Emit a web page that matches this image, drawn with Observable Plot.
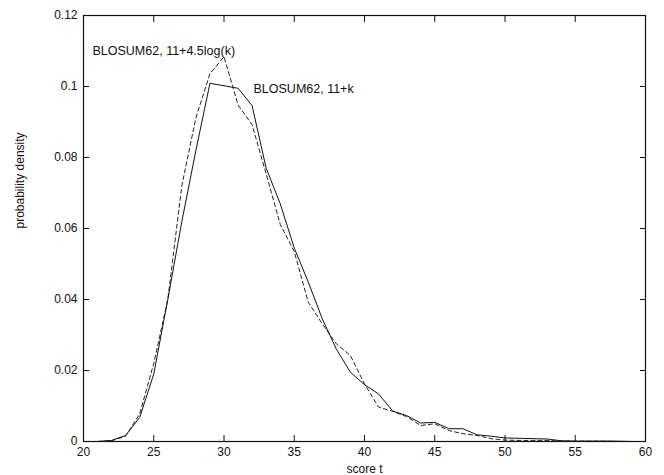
<!DOCTYPE html>
<html>
<head>
<meta charset="utf-8">
<script src="https://cdn.jsdelivr.net/npm/d3@7"></script>
<script src="https://cdn.jsdelivr.net/npm/@observablehq/plot@0.6"></script>
<style>
  html, body { margin: 0; padding: 0; background: #fff; }
  #chart svg { display: block; }
</style>
</head>
<body>
<div id="chart"></div>
<script>
// score t values
const scores = [20,21,22,23,24,25,26,27,28,29,30,31,32,33,34,35,36,37,38,39,40,41,42,43,44,45,46,47,48,49,50,51,52,53,54,55,56,57,58,59,60];
// BLOSUM62, 11+k (solid)
const linearGap = [0,0,0.0003,0.0017,0.0068,0.019,0.040,0.062,0.082,0.1009,0.1002,0.0995,0.0946,0.0770,0.0670,0.0545,0.0449,0.0345,0.0260,0.0195,0.0160,0.0134,0.0086,0.0073,0.0052,0.0054,0.0036,0.0036,0.0019,0.0015,0.0010,0.0009,0.0008,0.0007,0.0002,0.0001,0.0001,0.0001,0.0001,0,0];
// BLOSUM62, 11+4.5log(k) (dashed)
const logGap = [0,0,0.0002,0.0015,0.0078,0.0220,0.0400,0.0721,0.0912,0.1036,0.1084,0.0948,0.0892,0.0754,0.0612,0.0535,0.0392,0.0331,0.0275,0.0242,0.0162,0.0097,0.0085,0.0070,0.0045,0.0050,0.0031,0.0022,0.0017,0.0008,0.0004,0.0003,0.0003,0.0003,0.0001,0.0001,0.0001,0.0001,0,0,0];
// annotation labels
const labels = [
  {text: "BLOSUM62, 11+4.5log(k)", x: 20.64, y: 0.1099},
  {text: "BLOSUM62, 11+k", x: 32.1, y: 0.0992}
];
const xTicks = [20,25,30,35,40,45,50,55,60];
const yTicks = [0,0.02,0.04,0.06,0.08,0.1,0.12];

const solid = scores.map((s, i) => ({x: s, y: linearGap[i]}));
const dashed = scores.map((s, i) => ({x: s, y: logGap[i]}));

const chart = Plot.plot({
  width: 664,
  height: 475,
  marginLeft: 83,
  marginRight: 19,
  marginTop: 15,
  marginBottom: 34,
  style: {fontFamily: "'Liberation Sans', Arial, Helvetica, sans-serif", fontSize: "12px", color: "#111", background: "#fff"},
  x: {domain: [20, 60]},
  y: {domain: [0, 0.12]},
  marks: [
    Plot.frame({stroke: "#111", strokeWidth: 1.2}),
    Plot.axisX(xTicks, {anchor: "bottom", tickSize: -6, tickPadding: 12, fontSize: 12, label: null, tickFormat: d => String(d)}),
    Plot.axisX(xTicks, {anchor: "top", tickSize: -6, tickFormat: () => "", label: null}),
    Plot.axisY(yTicks, {anchor: "left", tickSize: -6, tickPadding: 12, fontSize: 12, label: null, tickFormat: d => String(d)}),
    Plot.axisY(yTicks, {anchor: "right", tickSize: -6, tickFormat: () => "", label: null}),
    Plot.text(["score t"], {frameAnchor: "bottom", dy: 31, fontSize: 12, lineAnchor: "bottom"}),
    Plot.text(["probability density"], {frameAnchor: "left", dx: -63, rotate: -90, fontSize: 12}),
    Plot.line(dashed, {x: "x", y: "y", stroke: "#222", strokeWidth: 1, strokeDasharray: "4,3"}),
    Plot.line(solid, {x: "x", y: "y", stroke: "#111", strokeWidth: 1}),
    Plot.text(labels, {x: "x", y: "y", text: "text", textAnchor: "start", fontSize: 12.5, fill: "#111"})
  ]
});
document.getElementById("chart").appendChild(chart);
</script>
</body>
</html>
